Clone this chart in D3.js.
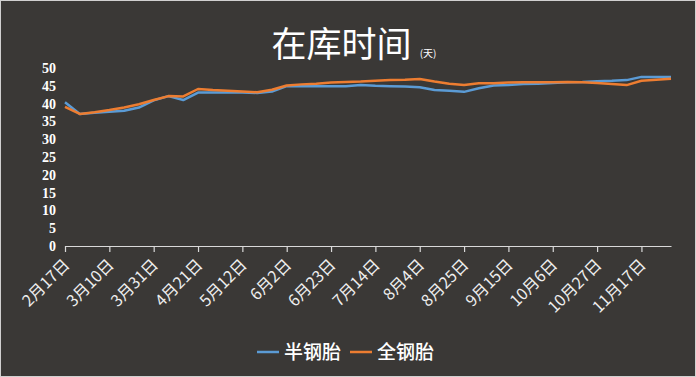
<!DOCTYPE html>
<html>
<head>
<meta charset="utf-8">
<script src="https://cdn.jsdelivr.net/npm/d3@7"></script>
<style>
  html, body { margin: 0; padding: 0; background: #fff; }
  #chart svg { display: block; }
</style>
</head>
<body>
<div id="chart"></div>
<script>
// weekly dates (2019, non-leap year)
const dates = ["2/17","2/24","3/3","3/10","3/17","3/24","3/31","4/7","4/14","4/21","4/28",
  "5/5","5/12","5/19","5/26","6/2","6/9","6/16","6/23","6/30","7/7","7/14","7/21","7/28",
  "8/4","8/11","8/18","8/25","9/1","9/8","9/15","9/22","9/29","10/6","10/13","10/20",
  "10/27","11/3","11/10","11/17","11/24","12/1"];

const semiSteel = [40.4,37.1,37.4,37.7,38.0,38.9,40.9,42.1,41.0,43.1,43.1,
  43.1,43.1,43.0,43.4,44.9,44.9,44.9,44.9,44.9,45.2,45.0,44.9,44.8,
  44.6,43.8,43.6,43.3,44.3,45.1,45.2,45.5,45.6,45.8,46.0,46.1,
  46.3,46.4,46.6,47.5,47.5,47.5];

const allSteel = [39.1,37.1,37.6,38.2,38.9,39.8,41.0,42.1,42.0,44.1,43.8,
  43.6,43.4,43.2,43.9,45.1,45.4,45.6,45.9,46.1,46.2,46.4,46.6,46.7,
  46.9,46.2,45.6,45.2,45.7,45.7,45.9,46.0,46.0,46.0,46.1,46.0,
  45.8,45.5,45.2,46.4,46.7,47.0];

const tickDates = ["2/17","3/10","3/31","4/21","5/12","6/2","6/23","7/14","8/4","8/25",
  "9/15","10/6","10/27","11/17"];

const seriesNames = ["半钢胎", "全钢胎"];
const seriesColors = ["#5b9bd5", "#ed7d31"];
const yTicks = [0,5,10,15,20,25,30,35,40,45,50];

const width = 696, height = 377;
const marginLeft = 65, marginRight = 25, marginTop = 68, marginBottom = 131;

const parse = d3.timeParse("%Y/%m/%d");
const toDate = s => parse("2019/" + s);

const series = [semiSteel, allSteel].map((vals, i) => ({
  name: seriesNames[i],
  color: seriesColors[i],
  values: vals.map((v, j) => ({ date: toDate(dates[j]), value: v }))
}));

const x = d3.scaleTime()
  .domain([toDate("2/17"), toDate("12/1")])
  .range([marginLeft, width - marginRight]);

const y = d3.scaleLinear()
  .domain([0, 50])
  .range([height - marginBottom, marginTop]);

const svg = d3.select("#chart").append("svg")
  .attr("width", width)
  .attr("height", height)
  .attr("viewBox", [0, 0, width, height]);

svg.append("rect")
  .attr("x", 0.5).attr("y", 0.5)
  .attr("width", width - 1).attr("height", height - 1)
  .attr("fill", "#3a3836")
  .attr("stroke", "#d0d0d0");

// title
const title = svg.append("text")
  .attr("x", 354)
  .attr("y", 57)
  .attr("text-anchor", "middle")
  .attr("fill", "#fff")
  .attr("font-family", "'Noto Sans CJK SC', sans-serif");
title.append("tspan").attr("font-size", 35).text("在库时间");
title.append("tspan").attr("font-size", 10).attr("dx", 8).text("(天)");

// y axis labels (no line)
svg.append("g")
  .attr("transform", `translate(${marginLeft},0)`)
  .call(d3.axisLeft(y).tickValues(yTicks).tickSize(0).tickPadding(9))
  .call(g => g.select(".domain").remove())
  .call(g => g.selectAll("text")
    .attr("fill", "#fff")
    .attr("font-family", "'Liberation Serif', serif")
    .attr("font-size", 14)
    .attr("font-weight", "bold"));

// x axis
const fmt = d => (d.getMonth() + 1) + "月" + d.getDate() + "日";

svg.append("g")
  .attr("transform", `translate(0,${height - marginBottom})`)
  .call(d3.axisBottom(x).tickValues(tickDates.map(toDate)).tickFormat(fmt).tickSize(6).tickSizeOuter(0))
  .call(g => g.select(".domain").attr("stroke", "#d9d9d9").attr("stroke-width", 1.2))
  .call(g => g.selectAll(".tick line").attr("stroke", "#d9d9d9").attr("stroke-width", 1.2))
  .call(g => g.selectAll("text")
    .attr("fill", "#eeeeee")
    .attr("font-family", "'Noto Sans CJK SC', sans-serif")
    .attr("font-size", 16)
    .attr("text-anchor", "end")
    .attr("dy", 0)
    .attr("y", 0)
    .attr("transform", "translate(5,20) rotate(-45)"));

// lines
const line = d3.line()
  .x(d => x(d.date))
  .y(d => y(d.value));

svg.append("g")
  .selectAll("path")
  .data(series)
  .join("path")
  .attr("fill", "none")
  .attr("stroke", d => d.color)
  .attr("stroke-width", 2.5)
  .attr("stroke-linejoin", "round")
  .attr("d", d => line(d.values));

// legend
const legend = svg.append("g")
  .attr("font-family", "'Noto Sans CJK SC', sans-serif")
  .attr("font-size", 19)
  .attr("font-weight", 500)
  .selectAll("g")
  .data(series)
  .join("g")
  .attr("transform", (d, i) => `translate(${257 + i * 93},352)`);

legend.append("line")
  .attr("x1", 0).attr("x2", 22)
  .attr("stroke", d => d.color)
  .attr("stroke-width", 2.5);

legend.append("text")
  .attr("x", 27)
  .attr("y", 0)
  .attr("dy", "0.36em")
  .attr("fill", "#fff")
  .text(d => d.name);
</script>
</body>
</html>
